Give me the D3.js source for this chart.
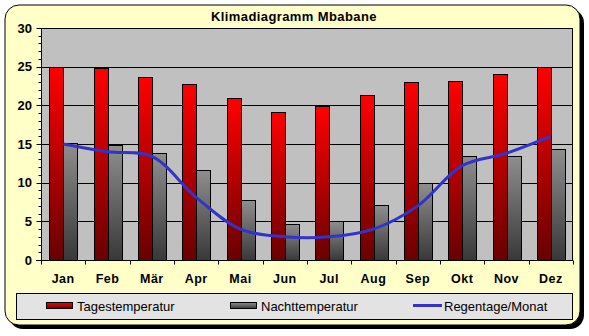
<!DOCTYPE html>
<html>
<head>
<meta charset="utf-8">
<script src="https://cdn.jsdelivr.net/npm/d3@7"></script>
<style>
  html, body { margin: 0; padding: 0; background: #ffffff; }
  svg { display: block; }
  text { font-family: Arial, "Liberation Sans", sans-serif; }
</style>
</head>
<body>
<script>
// Klimadiagramm Mbabane: Tages-/Nachttemperatur (°C) und Regentage pro Monat
const months = ["Jan", "Feb", "Mär", "Apr", "Mai", "Jun", "Jul", "Aug", "Sep", "Okt", "Nov", "Dez"];
const tagestemperatur = [25, 24.8, 23.6, 22.7, 21.0, 19.1, 19.9, 21.3, 23.0, 23.1, 24.0, 24.9];
const nachttemperatur = [15.1, 14.9, 13.8, 11.6, 7.7, 4.6, 5.0, 7.1, 9.9, 13.4, 13.4, 14.4];
const regentage = [15, 14, 13.4, 8.1, 4, 3, 3, 4, 7, 12.2, 13.8, 16];
const yTicks = [0, 5, 10, 15, 20, 25, 30];
const seriesNames = ["Tagestemperatur", "Nachttemperatur", "Regentage/Monat"];
const title = "Klimadiagramm Mbabane";

const W = 589, H = 336;
const plot = { left: 41, right: 573, top: 28, bottom: 260 };

const svg = d3.select("body").append("svg")
  .attr("width", W).attr("height", H);

const defs = svg.append("defs");
function vGrad(id, top, bottom) {
  const g = defs.append("linearGradient").attr("id", id)
    .attr("x1", 0).attr("y1", 0).attr("x2", 0).attr("y2", 1);
  g.append("stop").attr("offset", "0%").attr("stop-color", top);
  g.append("stop").attr("offset", "100%").attr("stop-color", bottom);
}
vGrad("gRed", "#ff0000", "#680000");
vGrad("gGrey", "#8e8e8e", "#383838");

// Outer frame with drop shadow
svg.append("rect").attr("x", 9).attr("y", 9).attr("width", 575).attr("height", 320)
  .attr("rx", 14).attr("fill", "#000");
svg.append("rect").attr("x", 5).attr("y", 5).attr("width", 575).attr("height", 320)
  .attr("rx", 14).attr("fill", "#ffffc8").attr("stroke", "#000").attr("stroke-width", 1);

// Title
svg.append("text").attr("x", 294).attr("y", 20.5).attr("text-anchor", "middle")
  .attr("font-size", 13).attr("font-weight", "bold").attr("letter-spacing", 0.4)
  .text(title);

// Scales
const x = d3.scaleBand().domain(months).range([plot.left, plot.right]).padding(0);
const bw = x.bandwidth();
const xSeries = d3.scaleBand().domain(["tag", "nacht"]).range([bw * 0.19, bw * 0.81]);
const y = d3.scaleLinear().domain([0, 30]).range([plot.bottom, plot.top]);

// Plot area
svg.append("rect").attr("x", plot.left).attr("y", plot.top)
  .attr("width", plot.right - plot.left).attr("height", plot.bottom - plot.top)
  .attr("fill", "#c0c0c0");

// Gridlines
svg.append("g").selectAll("line").data(yTicks.filter(d => d > 0 && d < 30)).join("line")
  .attr("x1", plot.left).attr("x2", plot.right)
  .attr("y1", d => Math.round(y(d)) + 0.5).attr("y2", d => Math.round(y(d)) + 0.5)
  .attr("stroke", "#000").attr("stroke-width", 1);

// Plot border
svg.append("rect").attr("x", plot.left + 0.5).attr("y", plot.top + 0.5)
  .attr("width", plot.right - plot.left - 1).attr("height", plot.bottom - plot.top)
  .attr("fill", "none").attr("stroke", "#000").attr("stroke-width", 1);

// Bars
const barG = svg.append("g");
months.forEach((m, i) => {
  [["tag", tagestemperatur[i], "url(#gRed)"], ["nacht", nachttemperatur[i], "url(#gGrey)"]].forEach(([k, v, fill]) => {
    barG.append("rect")
      .attr("x", Math.round(x(m) + xSeries(k)) + 0.5)
      .attr("y", Math.round(y(v)) + 0.5)
      .attr("width", Math.round(xSeries.bandwidth()))
      .attr("height", Math.round(y(0)) - Math.round(y(v)))
      .attr("fill", fill).attr("stroke", "#000").attr("stroke-width", 1);
  });
});

// Y axis with minor ticks
const yAxisG = svg.append("g").attr("transform", `translate(${plot.left + 0.5},0)`);
yAxisG.append("line").attr("y1", plot.top).attr("y2", plot.bottom + 4)
  .attr("stroke", "#000");
d3.range(0, 31, 1).forEach(v => {
  const major = v % 5 === 0;
  yAxisG.append("line")
    .attr("x1", major ? -5 : -3).attr("x2", 0)
    .attr("y1", Math.round(y(v)) + 0.5).attr("y2", Math.round(y(v)) + 0.5)
    .attr("stroke", "#000");
});
yAxisG.selectAll("text.tl").data(yTicks).join("text")
  .attr("x", -9.5).attr("y", d => y(d) + 4.5)
  .attr("text-anchor", "end").attr("font-size", 13).attr("font-weight", "bold")
  .text(d => d);

// X axis
const xAxis = d3.axisBottom(x).tickSize(0).tickSizeOuter(0);
const xAxisG = svg.append("g").attr("transform", `translate(0,${plot.bottom + 0.5})`).call(xAxis);
xAxisG.select(".domain").attr("stroke", "#000").attr("d", `M${plot.left - 5},0H${plot.right}`);
xAxisG.selectAll(".tick text")
  .attr("y", 14).attr("dy", "0.71em")
  .attr("font-family", "Arial, 'Liberation Sans', sans-serif")
  .attr("font-size", 12.5).attr("font-weight", "bold").attr("letter-spacing", 0.5)
  .attr("fill", "#000");
const bounds = months.map(m => x(m)).concat([plot.right]);
xAxisG.selectAll("line.bt").data(bounds).join("line")
  .attr("class", "bt")
  .attr("x1", d => Math.round(d) + 0.5).attr("x2", d => Math.round(d) + 0.5)
  .attr("y1", 0).attr("y2", 4).attr("stroke", "#000");

// Rainy days line
const line = d3.line()
  .x((d, i) => x(months[i]) + bw / 2)
  .y(d => y(d))
  .curve(d3.curveCatmullRom.alpha(0.5));
svg.append("path").datum(regentage)
  .attr("d", line).attr("fill", "none")
  .attr("stroke", "#3333cc").attr("stroke-width", 3);

// Legend
const lg = svg.append("g");
lg.append("rect").attr("x", 16.5).attr("y", 293.5).attr("width", 556).attr("height", 26)
  .attr("fill", "#e3e3e3").attr("stroke", "#000").attr("stroke-width", 1);
const legendItems = [
  { name: seriesNames[0], kind: "bar", fill: "url(#gRed)", x: 46 },
  { name: seriesNames[1], kind: "bar", fill: "url(#gGrey)", x: 230 },
  { name: seriesNames[2], kind: "line", stroke: "#3333cc", x: 413 }
];
legendItems.forEach(it => {
  if (it.kind === "bar") {
    lg.append("rect").attr("x", it.x + 0.5).attr("y", 302.5).attr("width", 26).attr("height", 6)
      .attr("fill", it.fill).attr("stroke", "#000").attr("stroke-width", 1);
  } else {
    lg.append("line").attr("x1", it.x).attr("x2", it.x + 29).attr("y1", 305.5).attr("y2", 305.5)
      .attr("stroke", it.stroke).attr("stroke-width", 3);
  }
  lg.append("text").attr("x", it.x + 31).attr("y", 310.5)
    .attr("font-size", 13).text(it.name);
});
</script>
</body>
</html>
